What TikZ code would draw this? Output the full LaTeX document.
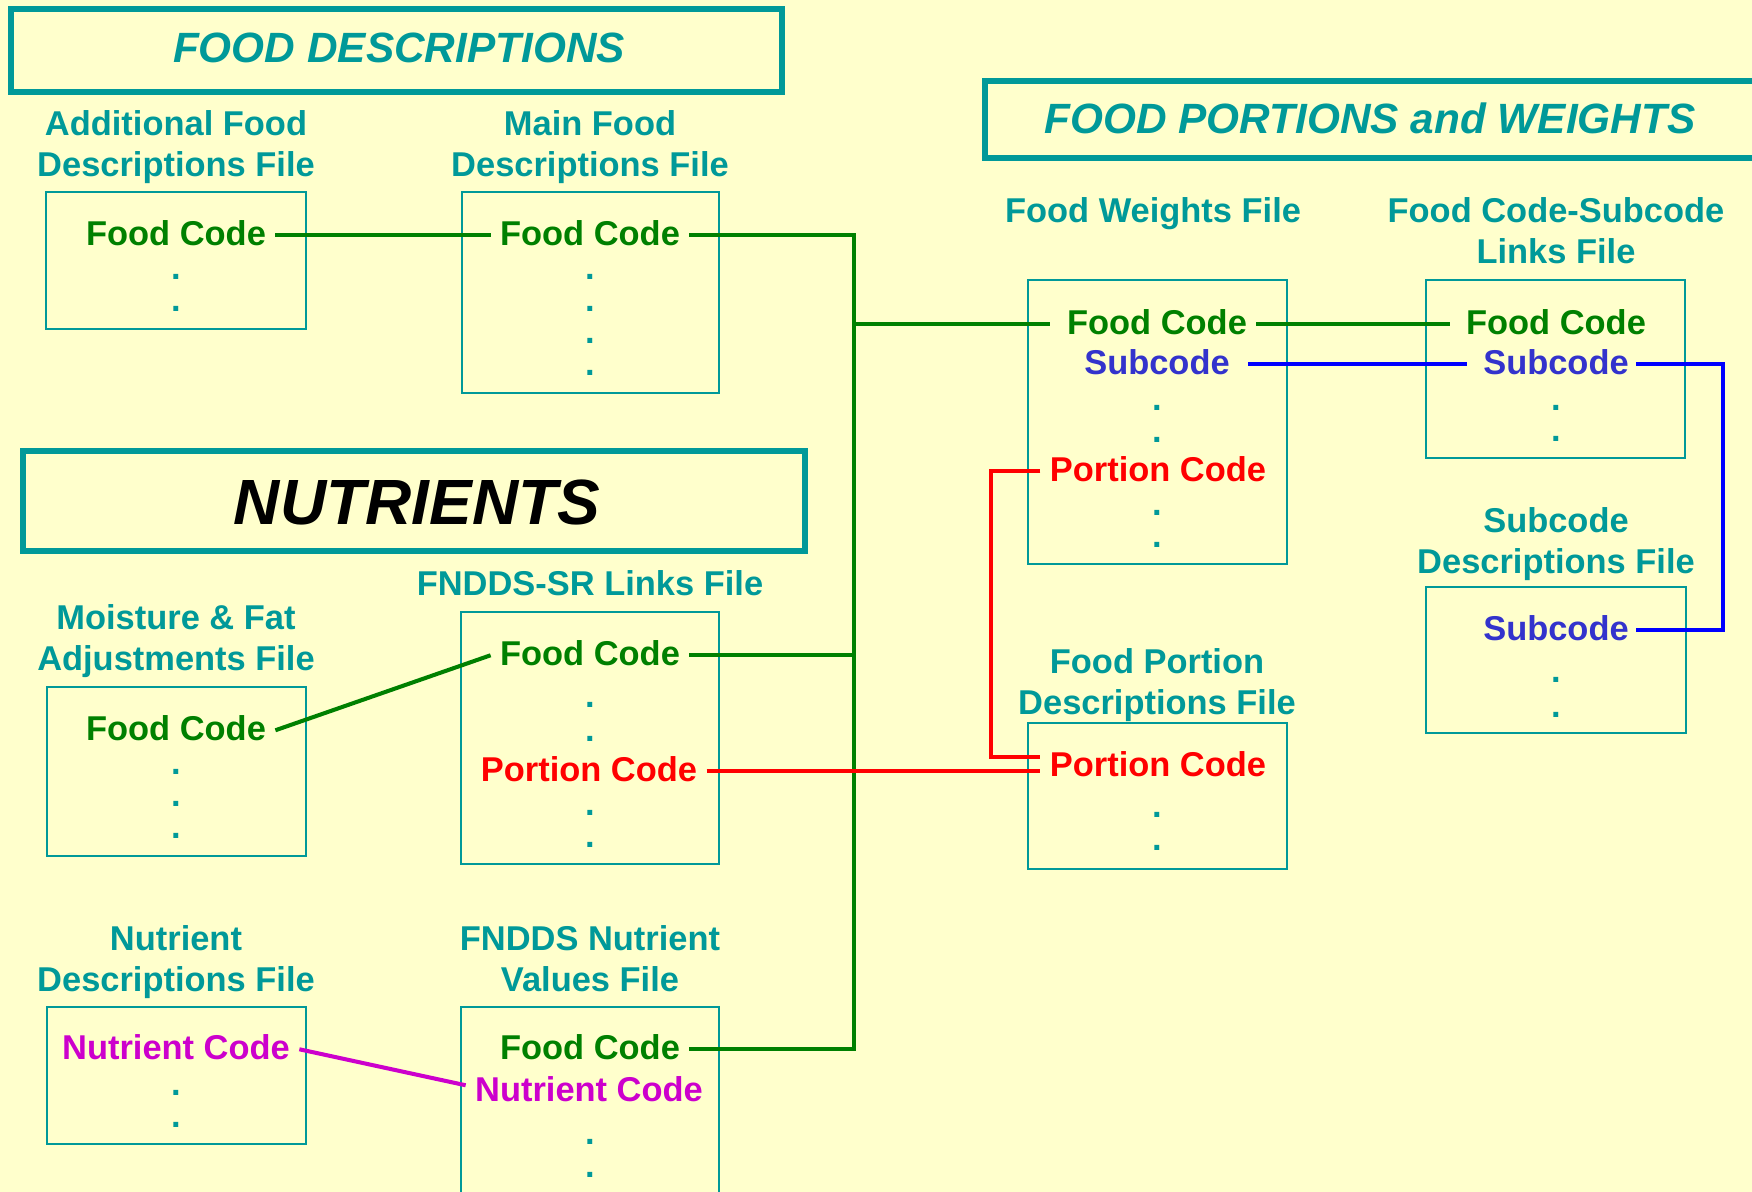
\documentclass[tikz,border=0pt]{standalone}
\usepackage{fontspec}
\setmainfont{Liberation Sans}
\usetikzlibrary{calc}
\definecolor{bgyellow}{HTML}{FFFFCC}
\definecolor{tealc}{HTML}{009999}
\definecolor{greenc}{HTML}{008000}
\definecolor{subc}{HTML}{3333CC}
\definecolor{bluel}{HTML}{0000FF}
\definecolor{redc}{HTML}{FF0000}
\definecolor{magc}{HTML}{CC00CC}
\begin{document}
\begin{tikzpicture}[x=0.1mm,y=-0.1mm,
  titlebox/.style={draw=tealc, line width=1.7pt},
  filebox/.style={draw=tealc, line width=0.6pt},
  titletext/.style={font=\fontsize{12.05}{14}\selectfont\bfseries\itshape, text=tealc, anchor=base, inner sep=0pt},
  bigtitle/.style={font=\fontsize{18.2}{22}\selectfont\bfseries\itshape, text=black, anchor=base, inner sep=0pt},
  header/.style={font=\fontsize{9.8}{11.7}\selectfont\bfseries, text=tealc, align=center, anchor=base, inner sep=0pt},
  code/.style={font=\fontsize{9.8}{11.7}\selectfont\bfseries, anchor=base, inner ysep=0pt, inner xsep=2.5pt, text height=6.1pt, text depth=0pt},
  gcode/.style={code, text=greenc},
  scode/.style={code, text=subc},
  rcode/.style={code, text=redc},
  mcode/.style={code, text=magc},
  dotnode/.style={font=\fontsize{9.8}{11.7}\selectfont\bfseries, text=tealc, anchor=base, inner sep=0pt},
  gline/.style={draw=greenc, line width=1.15pt},
  bline/.style={draw=bluel, line width=1.15pt},
  rline/.style={draw=redc, line width=1.15pt},
  mline/.style={draw=magc, line width=1.15pt}]
\useasboundingbox (0,0) rectangle (1752,1192);
\clip (0,0) rectangle (1752,1192);
\fill[bgyellow] (0,0) rectangle (1752,1192);

% title boxes
\draw[titlebox] (11,9) rectangle (782,92);
\node[titletext] (tfd) at (399,63) {FOOD DESCRIPTIONS};
\draw[titlebox] (985,81) rectangle (1760,158);
\node[titletext] (tfpw) at (1370,134) {FOOD PORTIONS and WEIGHTS};
\draw[titlebox] (23,451) rectangle (805,551);
\node[bigtitle] (tnut) at (417,525) {NUTRIENTS};

% file boxes
\draw[filebox] (46,192) rectangle (306,329);
\draw[filebox] (462,192) rectangle (719,393);
\draw[filebox] (1028,280) rectangle (1287,564);
\draw[filebox] (1426,280) rectangle (1685,458);
\draw[filebox] (1426,587) rectangle (1686,733);
\draw[filebox] (1028,723) rectangle (1287,869);
\draw[filebox] (47,687) rectangle (306,856);
\draw[filebox] (461,612) rectangle (719,864);
\draw[filebox] (47,1007) rectangle (306,1144);
\draw[filebox] (461,1007) rectangle (719,1210);

% headers (anchor = baseline of last line)
\node[header] (hadd) at (176,177) {Additional Food\\Descriptions File};
\node[header] (hmain) at (590,177) {Main Food\\Descriptions File};
\node[header] (hfw) at (1153,223) {Food Weights File};
\node[header] (hlk) at (1556,264) {Food Code-Subcode\\Links File};
\node[header] (hsd) at (1556,574) {Subcode\\Descriptions File};
\node[header] (hfp) at (1157,715) {Food Portion\\Descriptions File};
\node[header] (hm) at (176,671) {Moisture \& Fat\\Adjustments File};
\node[header] (hsr) at (590,596) {FNDDS-SR Links File};
\node[header] (hnd) at (176,992) {Nutrient\\Descriptions File};
\node[header] (hnv) at (590,992) {FNDDS Nutrient\\Values File};

% codes
\node[gcode] (addfc) at (176,246) {Food Code};
\node[gcode] (mainfc) at (590,246) {Food Code};
\node[gcode] (fwfc) at (1157,335) {Food Code};
\node[scode] (fwsub) at (1157,375) {Subcode};
\node[rcode] (fwpc) at (1158,482) {Portion Code};
\node[gcode] (lkfc) at (1556,335) {Food Code};
\node[scode] (lksub) at (1556,375) {Subcode};
\node[scode] (sdsub) at (1556,641) {Subcode};
\node[rcode] (fppc) at (1158,777) {Portion Code};
\node[gcode] (mfc) at (176,741) {Food Code};
\node[gcode] (srfc) at (590,666) {Food Code};
\node[rcode] (srpc) at (589,782) {Portion Code};
\node[mcode] (ndnc) at (176,1060) {Nutrient Code};
\node[gcode] (nvfc) at (590,1060) {Food Code};
\node[mcode] (nvnc) at (589,1102) {Nutrient Code};

% dots
\node[dotnode] (d1) at (176,280) {.};
\node[dotnode] (d2) at (176,312) {.};
\node[dotnode] (d3) at (590,280) {.};
\node[dotnode] (d4) at (590,312) {.};
\node[dotnode] (d5) at (590,344) {.};
\node[dotnode] (d6) at (590,376) {.};
\node[dotnode] (d7) at (1157,411) {.};
\node[dotnode] (d8) at (1157,443) {.};
\node[dotnode] (d9) at (1157,516) {.};
\node[dotnode] (d10) at (1157,548) {.};
\node[dotnode] (d11) at (1556,411) {.};
\node[dotnode] (d12) at (1556,442) {.};
\node[dotnode] (d13) at (1556,683) {.};
\node[dotnode] (d14) at (1556,718) {.};
\node[dotnode] (d15) at (1157,818) {.};
\node[dotnode] (d16) at (1157,851) {.};
\node[dotnode] (d17) at (176,775) {.};
\node[dotnode] (d18) at (176,807) {.};
\node[dotnode] (d19) at (176,839) {.};
\node[dotnode] (d20) at (590,708) {.};
\node[dotnode] (d21) at (590,742) {.};
\node[dotnode] (d22) at (590,816) {.};
\node[dotnode] (d23) at (590,848) {.};
\node[dotnode] (d24) at (176,1096) {.};
\node[dotnode] (d25) at (176,1128) {.};
\node[dotnode] (d26) at (590,1145) {.};
\node[dotnode] (d27) at (590,1178) {.};

% connectors
\coordinate (busx) at (854,0);
\coordinate (bluex) at (1723,0);
\coordinate (redx) at (991,0);
\draw[gline] (addfc.east) -- (mainfc.west);
\draw[gline] (mainfc.east) -| (busx |- nvfc.east) -- (nvfc.east);
\draw[gline] (srfc.east) -- (srfc.east -| busx);
\draw[gline] (busx |- fwfc.west) -- ([xshift=-0.8mm]fwfc.west);
\draw[gline] (fwfc.east) -- ([xshift=-0.7mm]lkfc.west);
\draw[gline] (mfc.east) -- (srfc.west);
\draw[bline] ([xshift=0.9mm]fwsub.east) -- ([xshift=-0.7mm]lksub.west);
\draw[bline] ([xshift=-0.2mm]lksub.east) -| (bluex |- sdsub.east) -- ([xshift=-0.2mm]sdsub.east);
\coordinate (fpin) at ($(fppc.west)+(0,-9)$);
\draw[rline] (fwpc.west) -| (redx |- fpin) -- (fpin);
\draw[rline] (srpc.east) -- (srpc.east -| fppc.west);
\draw[mline] (ndnc.east) -- ($(nvnc.west)+(0,-6)$);
\end{tikzpicture}
\end{document}
